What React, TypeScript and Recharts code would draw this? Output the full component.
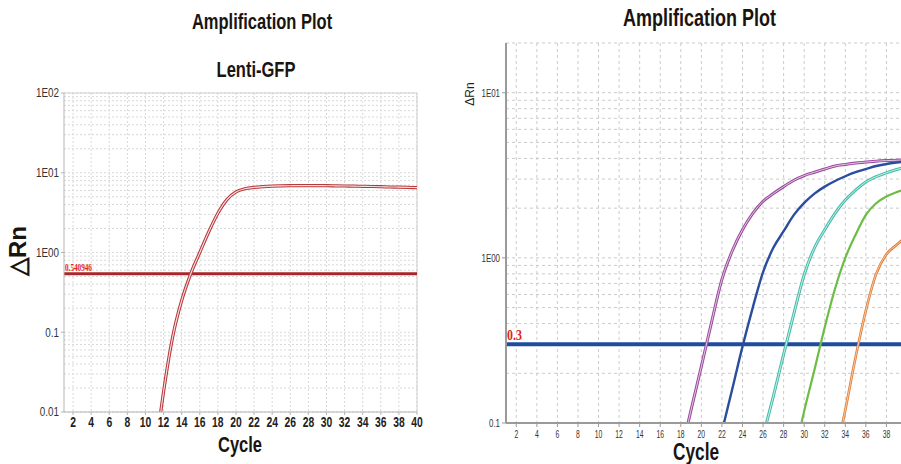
import React from 'react';
import { LineChart, Line, XAxis, YAxis, CartesianGrid, ReferenceLine, Label } from 'recharts';

// Lenti-GFP run (left panel), ΔRn per cycle
const gfpCycles = [11, 12, 13, 14, 15, 16, 17, 18, 19, 20, 21, 22, 23, 24, 25, 26, 27, 28, 29, 30, 31, 32, 33, 34, 35, 36, 37, 38, 39, 40];
const gfpRn = [0.0025, 0.018, 0.087, 0.25, 0.54, 1.0, 1.82, 3.1, 4.6, 5.75, 6.3, 6.55, 6.7, 6.8, 6.85, 6.88, 6.9, 6.9, 6.9, 6.88, 6.85, 6.82, 6.8, 6.75, 6.72, 6.68, 6.63, 6.6, 6.55, 6.5];
const gfpThreshold = 0.540946;
const gfpThresholdLabel = '0.540946';

// dilution series (right panel)
const dilCycles = [18, 19, 20, 21, 22, 23, 24, 25, 26, 27, 28, 29, 30, 31, 32, 33, 34, 35, 36, 37, 38, 39, 40];
const purpleRn = [0.065, 0.12, 0.22, 0.41, 0.74, 1.1, 1.48, 1.86, 2.2, 2.45, 2.7, 2.95, 3.15, 3.3, 3.45, 3.6, 3.68, 3.75, 3.8, 3.85, 3.88, 3.9, 3.93];
const blueRn = [null, null, null, null, 0.089, 0.16, 0.29, 0.5, 0.82, 1.15, 1.45, 1.82, 2.15, 2.45, 2.7, 2.92, 3.12, 3.3, 3.45, 3.6, 3.7, 3.78, 3.85];
const tealRn = [null, null, null, null, null, null, null, null, 0.083, 0.145, 0.26, 0.46, 0.79, 1.15, 1.48, 1.86, 2.24, 2.57, 2.88, 3.1, 3.27, 3.43, 3.55];
const greenRn = [null, null, null, null, null, null, null, null, null, null, null, 0.063, 0.118, 0.21, 0.38, 0.65, 1.0, 1.38, 1.82, 2.14, 2.35, 2.5, 2.62];
const orangeRn = [null, null, null, null, null, null, null, null, null, null, null, null, null, null, null, 0.06, 0.12, 0.25, 0.48, 0.8, 1.05, 1.2, 1.36];
const dilThreshold = 0.3;
const dilThresholdLabel = '0.3';

// axes
const leftXTicks = [2, 4, 6, 8, 10, 12, 14, 16, 18, 20, 22, 24, 26, 28, 30, 32, 34, 36, 38, 40];
const rightXTicks = [2, 4, 6, 8, 10, 12, 14, 16, 18, 20, 22, 24, 26, 28, 30, 32, 34, 36, 38];
const leftYTicks = [0.01, 0.1, 1, 10, 100];
const leftYLabels = ['0.01', '0.1', '1E00', '1E01', '1E02'];
const rightYTicks = [0.1, 1, 10];
const rightYLabels = ['0.1', '1E00', '1E01'];

const minorLog = (decades: number[]) =>
  decades.flatMap((d) => [1, 2, 3, 4, 5, 6, 7, 8, 9].map((m) => +(m * d).toPrecision(3)));

const leftGrid = [...minorLog([0.01, 0.1, 1, 10]), 100];
const rightGrid = [...minorLog([0.1, 1]), 10, 20];

const gfpData = gfpCycles.map((c, i) => ({ cycle: c, rn: gfpRn[i] }));
const dilData = dilCycles.map((c, i) => ({
  cycle: c,
  purple: purpleRn[i],
  blue: blueRn[i],
  teal: tealRn[i],
  green: greenRn[i],
  orange: orangeRn[i],
}));

const sans = '"Liberation Sans", Arial, sans-serif';
const serif = '"Liberation Serif", "Times New Roman", serif';

const labelOf = (ticks: number[], labels: string[], v: number) => {
  const i = ticks.findIndex((t) => Math.abs(t - v) < 1e-9);
  return i >= 0 ? labels[i] : String(v);
};

// condensed tick text (the original uses a narrow face)
const NarrowTick = (props: any) => {
  const { x, y, payload, textAnchor, size, weight, sx, shift, ticks, labels, color } = props;
  const s = ticks ? labelOf(ticks, labels, payload.value) : String(payload.value);
  return (
    <g transform={`translate(${x},${y}) scale(${sx},1)`}>
      <text
        textAnchor={textAnchor}
        dy={shift}
        fontSize={size}
        fontWeight={weight}
        fontFamily={sans}
        fill={color}
      >
        {s}
      </text>
    </g>
  );
};

const ThresholdText = (props: any) => {
  const { viewBox, value, size, weight, sx, dx, dy } = props;
  return (
    <g transform={`translate(${viewBox.x + dx},${viewBox.y + dy}) scale(${sx},1)`}>
      <text fontSize={size} fontWeight={weight} fontFamily={serif} fill="#e32222">
        {value}
      </text>
    </g>
  );
};

const text = (style: React.CSSProperties, s: string) => (
  <div style={{ position: 'absolute', whiteSpace: 'nowrap', lineHeight: 1, ...style }}>{s}</div>
);

const heading = (left: number, top: number, size: number, s: string) =>
  text(
    {
      left,
      width: 200,
      top,
      textAlign: 'center',
      fontSize: size,
      fontWeight: 'bold',
      color: '#1a1410',
      transform: 'scaleX(0.75)',
      transformOrigin: 'center',
    },
    s
  );

export default function App() {
  return (
    <div
      style={{
        position: 'fixed',
        left: 0,
        top: 0,
        width: 901,
        height: 464,
        overflow: 'hidden',
        background: '#fff',
        fontFamily: sans,
      }}
    >
      {/* left panel */}
      <div style={{ position: 'absolute', left: 0, top: 0 }}>
        <LineChart width={430} height={464} data={gfpData} margin={{ top: 93, right: 13, bottom: 22, left: 4 }}>
          <CartesianGrid
            stroke="#d9d9d9"
            strokeDasharray="2 2"
            horizontalValues={leftGrid}
            verticalValues={leftXTicks}
          />
          <XAxis
            dataKey="cycle"
            type="number"
            domain={[1, 40]}
            ticks={leftXTicks}
            interval={0}
            allowDataOverflow
            height={30}
            tickSize={3}
            tickMargin={2}
            stroke="#b5b5b5"
            tick={<NarrowTick size={14} weight="bold" sx={0.74} shift="0.71em" color="#222" />}
          />
          <YAxis
            type="number"
            scale="log"
            domain={[0.01, 100]}
            ticks={leftYTicks}
            interval={0}
            allowDataOverflow
            width={60}
            tickSize={3}
            tickMargin={2}
            stroke="#b5b5b5"
            tick={<NarrowTick size={12} weight="normal" sx={0.82} shift="0.36em" color="#333" ticks={leftYTicks} labels={leftYLabels} />}
          />
          <ReferenceLine y={100} stroke="#cfcfcf" />
          <ReferenceLine x={40} stroke="#cfcfcf" />
          <ReferenceLine y={gfpThreshold} stroke="#a8262a" strokeWidth={3}>
            <Label
              value={gfpThresholdLabel}
              content={<ThresholdText value={gfpThresholdLabel} size={10} weight="bold" sx={0.72} dx={1} dy={-3} />}
            />
          </ReferenceLine>
          <Line dataKey="rn" type="monotone" stroke="#b8383c" strokeWidth={3.2} dot={false} isAnimationActive={false} />
          <Line dataKey="rn" type="monotone" stroke="#f6e4e4" strokeWidth={1.1} dot={false} isAnimationActive={false} />
        </LineChart>
      </div>

      {/* right panel */}
      <div style={{ position: 'absolute', left: 450, top: 0 }}>
        <LineChart width={467} height={464} data={dilData} margin={{ top: 43, right: 10, bottom: 16, left: 4 }}>
          <CartesianGrid
            stroke="#cbcbcb"
            strokeDasharray="3 3"
            horizontalValues={rightGrid}
            verticalValues={rightXTicks}
          />
          <XAxis
            dataKey="cycle"
            type="number"
            domain={[1, 40]}
            ticks={rightXTicks}
            interval={0}
            allowDataOverflow
            height={25}
            tickSize={4}
            tickMargin={4}
            stroke="#9a9a9a"
            axisLine={{ stroke: '#9a9a9a', strokeWidth: 2 }}
            tick={<NarrowTick size={10} weight="normal" sx={0.68} shift="0.71em" color="#333" />}
          />
          <YAxis
            type="number"
            scale="log"
            domain={[0.1, 20]}
            ticks={rightYTicks}
            interval={0}
            allowDataOverflow
            width={52}
            tickSize={4}
            tickMargin={2}
            stroke="#9a9a9a"
            axisLine={{ stroke: '#9a9a9a', strokeWidth: 2 }}
            tick={<NarrowTick size={11} weight="normal" sx={0.72} shift="0.36em" color="#333" ticks={rightYTicks} labels={rightYLabels} />}
          />
          <ReferenceLine y={dilThreshold} stroke="#1f4c9c" strokeWidth={4}>
            <Label
              value={dilThresholdLabel}
              content={<ThresholdText value={dilThresholdLabel} size={14} weight="bold" sx={0.85} dx={1} dy={-4} />}
            />
          </ReferenceLine>
          <Line dataKey="purple" type="monotone" stroke="#9b4a9e" strokeWidth={3} dot={false} isAnimationActive={false} />
          <Line dataKey="purple" type="monotone" stroke="#e8d6ea" strokeWidth={0.9} dot={false} isAnimationActive={false} />
          <Line dataKey="blue" type="monotone" stroke="#2a4d9e" strokeWidth={2.4} dot={false} isAnimationActive={false} />
          <Line dataKey="teal" type="monotone" stroke="#46bcaa" strokeWidth={3} dot={false} isAnimationActive={false} />
          <Line dataKey="teal" type="monotone" stroke="#d8f2ee" strokeWidth={0.9} dot={false} isAnimationActive={false} />
          <Line dataKey="green" type="monotone" stroke="#6dbd45" strokeWidth={2.2} dot={false} isAnimationActive={false} />
          <Line dataKey="orange" type="monotone" stroke="#e07a30" strokeWidth={2.6} dot={false} isAnimationActive={false} />
          <Line dataKey="orange" type="monotone" stroke="#f9e1cf" strokeWidth={0.8} dot={false} isAnimationActive={false} />
        </LineChart>
      </div>

      {/* titles and axis names */}
      {heading(162, 11, 22, 'Amplification Plot')}
      {heading(156, 59, 22, 'Lenti-GFP')}
      {heading(140, 434, 22, 'Cycle')}
      {heading(598, 6, 24, 'Amplification Plot')}
      {heading(596, 441, 23, 'Cycle')}
      {text({ left: -32, width: 100, top: 239, textAlign: 'center', fontSize: 24, fontWeight: 'bold', color: '#1a1410', transform: 'rotate(-90deg)' }, '△Rn')}
      {text({ left: 445, width: 50, top: 88, textAlign: 'center', fontSize: 12, color: '#222', transform: 'rotate(-90deg)' }, 'ΔRn')}
    </div>
  );
}
